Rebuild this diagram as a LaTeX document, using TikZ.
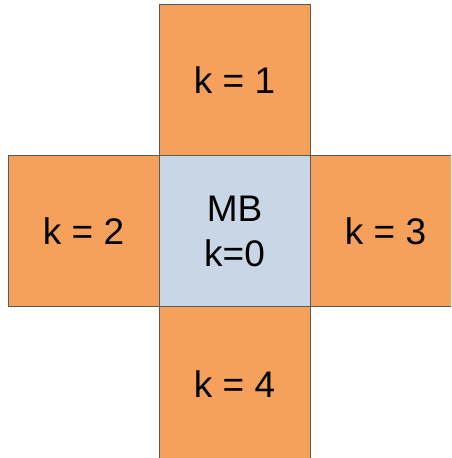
\documentclass[tikz,border=0pt]{standalone}
\usepackage{fontspec}
\setmainfont{Liberation Sans}
\definecolor{boxorange}{RGB}{245,160,91}
\definecolor{boxblue}{RGB}{201,214,229}
\definecolor{boxline}{RGB}{90,90,90}
\begin{document}
\begin{tikzpicture}[x=1pt,y=1pt,
  cell/.style={draw=boxline, line width=0.9pt, minimum width=151pt, minimum height=151pt, inner sep=0pt, font=\fontsize{37}{45}\selectfont, align=center},
  outer/.style={cell, fill=boxorange},
  inner/.style={cell, fill=boxblue}]
\useasboundingbox (0,0) rectangle (451,458);
\clip (0,0) rectangle (451,458);
\node[outer, minimum height=154pt] (bottom) at (234.5,74.3) {k = 4};
\node[outer] (top) at (234.5,377.8) {k = 1};
\node[outer] (left) at (83.5,226.8) {k = 2};
\node[outer] (right) at (385.5,226.8) {k = 3};
\node[inner] (mb) at (234.5,226.8) {MB\\k=0};
\end{tikzpicture}
\end{document}
